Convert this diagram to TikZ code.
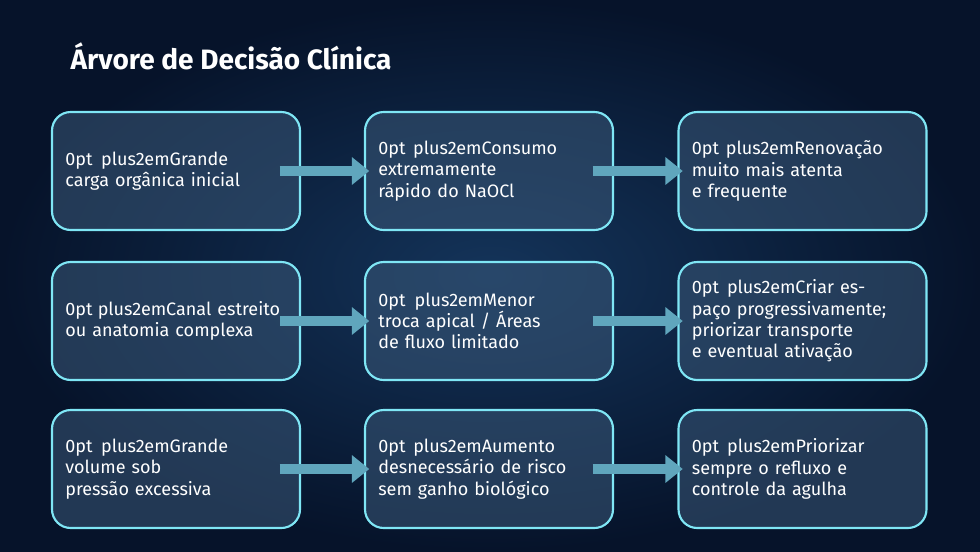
\documentclass[tikz,border=0pt]{standalone}
\usepackage{fontspec}
\setmainfont{Fira Sans}
\usetikzlibrary{arrows.meta}
\definecolor{bgdark}{HTML}{06132A}
\definecolor{bgmid}{HTML}{14345A}
\definecolor{glow}{HTML}{7FE6F5}
\definecolor{boxfill}{HTML}{3A5878}
\tikzset{
  stage/.style={draw=glow,line width=1.6pt,rounded corners=14pt,fill=boxfill,fill opacity=.55,text opacity=1,
    minimum width=186pt,minimum height=88.5pt,text width=166pt,align=center,text=white,
    font=\fontsize{13.5}{16}\selectfont\hyphenpenalty=10000},
  flow/.style={-{Triangle[width=20pt,length=13pt]},line width=8pt,draw=glow!55!boxfill}
}
\begin{document}
\begin{tikzpicture}[x=0.75pt,y=-0.75pt]
		\useasboundingbox (0,0) rectangle (980,551);
		\shade[inner color=bgmid,outer color=bgdark] (0,0) rectangle (980,551);
		\node[anchor=west,text=white,font=\bfseries\fontsize{21}{24}\selectfont] (title) at (66,56) {Árvore de Decisão Clínica};
		\foreach \r/\y/\ta/\tb/\tc in {
			1/171/{Grande carga orgânica inicial}/{Consumo extremamente rápido do NaOCl}/{Renovação muito mais atenta e frequente},
			2/321/{Canal estreito ou anatomia complexa}/{Menor troca apical / Áreas de fluxo limitado}/{Criar espaço progressivamente; priorizar transporte e eventual ativação},
			3/469/{Grande volume sob pressão excessiva}/{Aumento desnecessário de risco sem ganho biológico}/{Priorizar sempre o refluxo e controle da agulha}}{
			\node[stage] (mx-\r-1) at (176,\y) {\ta};
			\node[stage] (mx-\r-2) at (489,\y) {\tb};
			\node[stage] (mx-\r-3) at (802.5,\y) {\tc};
			\foreach \from/\to in {1/2,2/3}{
				\draw[flow,shorten <=-16pt,shorten >=-4pt] (mx-\r-\from.east) -- (mx-\r-\to.west);
			};
		};
	\end{tikzpicture}
\end{document}
